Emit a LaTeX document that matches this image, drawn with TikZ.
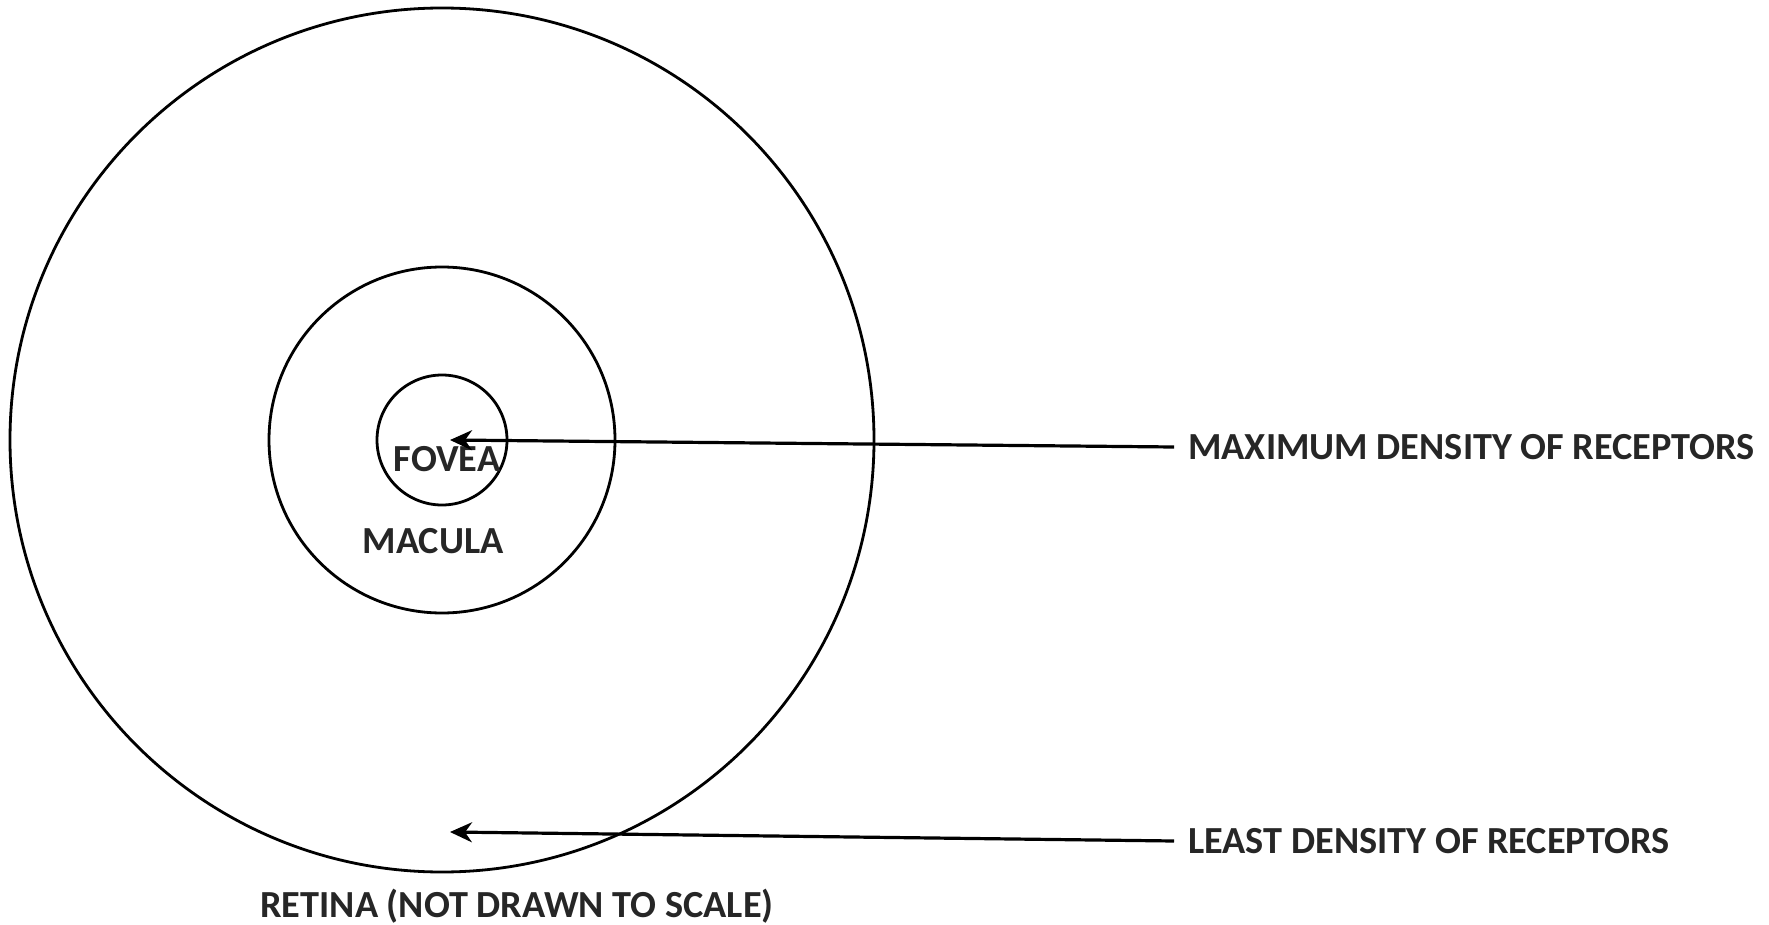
\documentclass[tikz,border=0pt]{standalone}
\usepackage{fontspec}
\setmainfont{Carlito}
\usetikzlibrary{arrows.meta}
\begin{document}
\begin{tikzpicture}[x=1pt,y=-1pt,
    ring/.style={line width=2.8pt},
    pointer/.style={line width=3.2pt,-{Stealth[length=22pt,width=20pt,inset=7pt]}},
    lbl/.style={font=\bfseries\fontsize{38.3}{44}\selectfont,text=black!85,inner sep=0pt}]
        \useasboundingbox (0,0) rectangle (1769,925);
        \coordinate (C) at (442,440);
        \draw[ring] (C) circle (432);
        \draw[ring] (C) circle (173);
        \draw[ring] (C) circle (65);
        \node[lbl] (fovea) at (447,459) {FOVEA};
        \node[lbl] (macula) at (433,541) {MACULA};
        \node[lbl] (retina) at (517,906) {RETINA (NOT DRAWN TO SCALE)};
        \node[lbl,anchor=west,inner xsep=14pt] (maxlbl) at (1174,447) {MAXIMUM DENSITY OF RECEPTORS};
        \node[lbl,anchor=west,inner xsep=14pt] (leastlbl) at (1174,841) {LEAST DENSITY OF RECEPTORS};
        \coordinate (maxtip) at (450,440);
        \coordinate (leasttip) at (450,832);
        \draw[pointer] (maxlbl.west) -- (maxtip);
        \draw[pointer] (leastlbl.west) -- (leasttip);
    \end{tikzpicture}
\end{document}
